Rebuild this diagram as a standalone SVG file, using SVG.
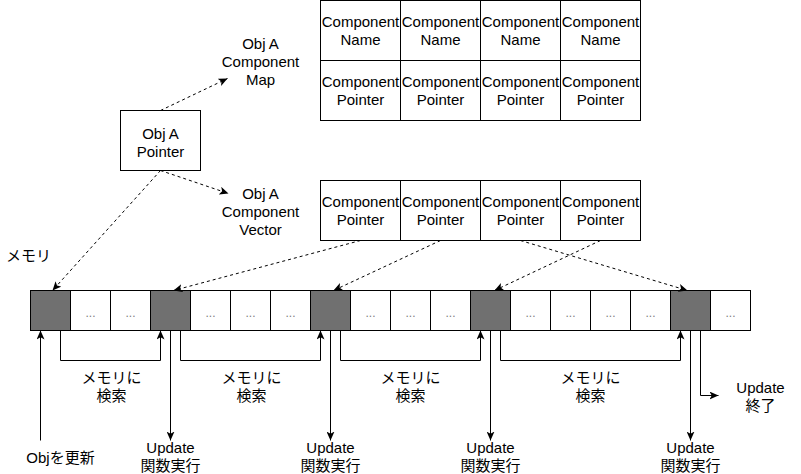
<svg xmlns="http://www.w3.org/2000/svg" width="801" height="474" viewBox="0 0 801 474">
<style>
text{font-family:"Liberation Sans","Noto Sans CJK JP",sans-serif;font-size:15px;fill:#000;text-anchor:middle}
.box{fill:#fff;stroke:#000;stroke-width:1}
.dark{fill:#707070;stroke:#000;stroke-width:1}
.dots{font-size:12px;fill:#808080}
.edge{fill:none;stroke:#000;stroke-width:1;marker-end:url(#arr)}
.dash{stroke-dasharray:3 3}
</style>
<defs>
<marker id="arr" markerUnits="userSpaceOnUse" markerWidth="10" markerHeight="8" viewBox="0 0 10 8" refX="9" refY="4" orient="auto">
<path d="M0,0 L9,4 L0,8 L2.25,4 Z" fill="#000"/>
</marker>
</defs>
<rect width="801" height="474" fill="#fff"/>
<g transform="translate(0.5,0.5)">
<g id="objA">
<rect class="box" x="120" y="110" width="80" height="60"/>
<text x="160" y="138">Obj A</text>
<text x="160" y="156">Pointer</text>
</g>
<g id="mapLabel">
<text x="260" y="48">Obj A</text>
<text x="260" y="66">Component</text>
<text x="260" y="84">Map</text>
</g>
<g id="vectorLabel">
<text x="260" y="198">Obj A</text>
<text x="260" y="216">Component</text>
<text x="260" y="234">Vector</text>
</g>
<g id="componentMap">
<rect class="box" x="320" y="0" width="80" height="60"/>
<rect class="box" x="400" y="0" width="80" height="60"/>
<rect class="box" x="480" y="0" width="80" height="60"/>
<rect class="box" x="560" y="0" width="80" height="60"/>
<rect class="box" x="320" y="60" width="80" height="60"/>
<rect class="box" x="400" y="60" width="80" height="60"/>
<rect class="box" x="480" y="60" width="80" height="60"/>
<rect class="box" x="560" y="60" width="80" height="60"/>
<text x="360" y="26">Component</text><text x="360" y="44">Name</text>
<text x="440" y="26">Component</text><text x="440" y="44">Name</text>
<text x="520" y="26">Component</text><text x="520" y="44">Name</text>
<text x="600" y="26">Component</text><text x="600" y="44">Name</text>
<text x="360" y="86">Component</text><text x="360" y="104">Pointer</text>
<text x="440" y="86">Component</text><text x="440" y="104">Pointer</text>
<text x="520" y="86">Component</text><text x="520" y="104">Pointer</text>
<text x="600" y="86">Component</text><text x="600" y="104">Pointer</text>
</g>
<g id="componentVector">
<rect class="box" x="320" y="180" width="80" height="60"/>
<rect class="box" x="400" y="180" width="80" height="60"/>
<rect class="box" x="480" y="180" width="80" height="60"/>
<rect class="box" x="560" y="180" width="80" height="60"/>
<text x="360" y="206">Component</text><text x="360" y="224">Pointer</text>
<text x="440" y="206">Component</text><text x="440" y="224">Pointer</text>
<text x="520" y="206">Component</text><text x="520" y="224">Pointer</text>
<text x="600" y="206">Component</text><text x="600" y="224">Pointer</text>
</g>
<g id="memoryLabel">
<text x="28" y="260">メモリ</text>
</g>
<g id="memory">
<rect class="dark" x="30" y="290" width="40" height="40"/>
<rect class="box" x="70" y="290" width="40" height="40"/>
<rect class="box" x="110" y="290" width="40" height="40"/>
<rect class="dark" x="150" y="290" width="40" height="40"/>
<rect class="box" x="190" y="290" width="40" height="40"/>
<rect class="box" x="230" y="290" width="40" height="40"/>
<rect class="box" x="270" y="290" width="40" height="40"/>
<rect class="dark" x="310" y="290" width="40" height="40"/>
<rect class="box" x="350" y="290" width="40" height="40"/>
<rect class="box" x="390" y="290" width="40" height="40"/>
<rect class="box" x="430" y="290" width="40" height="40"/>
<rect class="dark" x="470" y="290" width="40" height="40"/>
<rect class="box" x="510" y="290" width="40" height="40"/>
<rect class="box" x="550" y="290" width="40" height="40"/>
<rect class="box" x="590" y="290" width="40" height="40"/>
<rect class="box" x="630" y="290" width="40" height="40"/>
<rect class="dark" x="670" y="290" width="40" height="40"/>
<rect class="box" x="710" y="290" width="40" height="40"/>
<text class="dots" x="90" y="316">...</text>
<text class="dots" x="130" y="316">...</text>
<text class="dots" x="210" y="316">...</text>
<text class="dots" x="250" y="316">...</text>
<text class="dots" x="290" y="316">...</text>
<text class="dots" x="370" y="316">...</text>
<text class="dots" x="410" y="316">...</text>
<text class="dots" x="450" y="316">...</text>
<text class="dots" x="530" y="316">...</text>
<text class="dots" x="570" y="316">...</text>
<text class="dots" x="610" y="316">...</text>
<text class="dots" x="650" y="316">...</text>
<text class="dots" x="730" y="316">...</text>
</g>
<g id="connectors">
<path class="edge dash" d="M160,110 L227,78"/>
<path class="edge dash" d="M160,170 L228,193"/>
<path class="edge dash" d="M160,170 L52,290"/>
<path class="edge dash" d="M360,240 L173,290"/>
<path class="edge dash" d="M440,240 L333,290"/>
<path class="edge dash" d="M600,240 L494,290"/>
<path class="edge dash" d="M520,240 L687,290"/>
<path class="edge" d="M40,440 V330"/>
<path class="edge" d="M60,330 V360 H160 V330"/>
<path class="edge" d="M180,330 V360 H320 V330"/>
<path class="edge" d="M340,330 V360 H480 V330"/>
<path class="edge" d="M500,330 V360 H680 V330"/>
<path class="edge" d="M170,330 V440"/>
<path class="edge" d="M330,330 V440"/>
<path class="edge" d="M490,330 V440"/>
<path class="edge" d="M690,330 V440"/>
<path class="edge" d="M700,330 V395 H718"/>
</g>
<g id="labels">
<text x="111" y="382">メモリに</text><text x="111" y="400">検索</text>
<text x="251" y="382">メモリに</text><text x="251" y="400">検索</text>
<text x="410" y="382">メモリに</text><text x="410" y="400">検索</text>
<text x="590" y="382">メモリに</text><text x="590" y="400">検索</text>
<text x="60" y="462">Objを更新</text>
<text x="170" y="452">Update</text><text x="170" y="470">関数実行</text>
<text x="330" y="452">Update</text><text x="330" y="470">関数実行</text>
<text x="490" y="452">Update</text><text x="490" y="470">関数実行</text>
<text x="690" y="452">Update</text><text x="690" y="470">関数実行</text>
<text x="760" y="392">Update</text><text x="760" y="410">終了</text>
</g>
</g>
</svg>
